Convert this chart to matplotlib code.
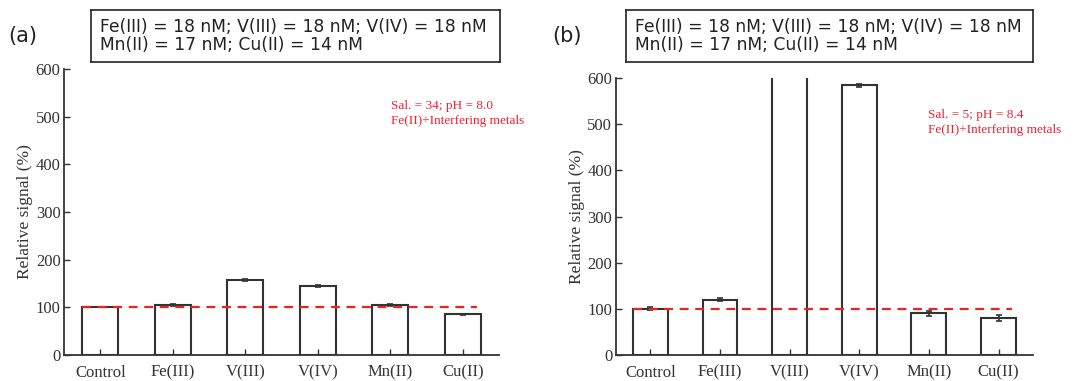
import numpy as np
import matplotlib.pyplot as plt

# data
metals = ['Control', 'Fe(III)', 'V(III)', 'V(IV)', 'Mn(II)', 'Cu(II)']
signal_a = [100, 105, 157, 145, 105, 85]
err_a = [0, 2, 2, 2, 2, 1]
signal_b = [100, 120, 1500, 584, 90, 80]
err_b = [3, 4, 0, 4, 5, 7]
conc_text = 'Fe(III) = 18 nM; V(III) = 18 nM; V(IV) = 18 nM\nMn(II) = 17 nM; Cu(II) = 14 nM'
cond_a = 'Sal. = 34; pH = 8.0\nFe(II)+Interfering metals'
cond_b = 'Sal. = 5; pH = 8.4\nFe(II)+Interfering metals'

serif = ['Liberation Serif', 'DejaVu Serif']
dark = '#333333'


def panel(fig, rect, vals, errs, cond, cond_xy, tag, tag_x, box_rect):
    ax = fig.add_axes(rect)
    x = np.arange(len(metals))
    ax.bar(x, vals, width=0.5, facecolor='white', edgecolor=dark, linewidth=1.5,
           yerr=errs, error_kw=dict(ecolor=dark, elinewidth=1.2, capsize=2.5, capthick=1.2))
    ax.hlines(100, -0.25, 5.2, colors='#ee2222', linestyles=(0, (4, 3)), linewidth=1.6, zorder=5)
    ax.set_xlim(-0.5, 5.5)
    ax.set_ylim(0, 600)
    ax.set_yticks(range(0, 601, 100))
    ax.set_xticks(x)
    ax.set_xticklabels(metals, fontfamily=serif, fontsize=12, color=dark)
    for lab in ax.get_yticklabels():
        lab.set_fontfamily(serif)
        lab.set_fontsize(12)
        lab.set_color(dark)
    ax.tick_params(direction='in', length=4, width=1, color=dark, pad=2.5)
    ax.tick_params(axis='x', pad=7)
    ax.set_ylabel('Relative signal (%)', fontfamily=serif, fontsize=12.5, color=dark, labelpad=2)
    for s in ['top', 'right']:
        ax.spines[s].set_visible(False)
    for s in ['left', 'bottom']:
        ax.spines[s].set_color(dark)
        ax.spines[s].set_linewidth(1.3)
    ax.text(cond_xy[0], cond_xy[1], cond, transform=fig.transFigure, color='#ee2233',
            fontfamily=serif, fontsize=9.5, va='top', ha='left', linespacing=1.35)
    fig.text(tag_x, 0.905, tag, fontsize=15, va='center', ha='left', color='#222222')
    bx = fig.add_axes(box_rect)
    bx.set_xticks([])
    bx.set_yticks([])
    for s in bx.spines.values():
        s.set_linewidth(1.2)
        s.set_color('#222222')
    bx.text(0.022, 0.5, conc_text, transform=bx.transAxes, fontsize=12.3, va='center',
            ha='left', linespacing=1.05, color='#222222')
    return ax


fig = plt.figure(figsize=(10.82, 3.81), dpi=100)
panel(fig, [0.0592, 0.0682, 0.402, 0.751], signal_a, err_a, cond_a, (0.361, 0.738),
      '(a)', 0.008, [0.0845, 0.837, 0.378, 0.137])
panel(fig, [0.569, 0.0682, 0.386, 0.727], signal_b, err_b, cond_b, (0.858, 0.713),
      '(b)', 0.51, [0.5785, 0.837, 0.376, 0.137])

fig.savefig('out.png', dpi=100)
